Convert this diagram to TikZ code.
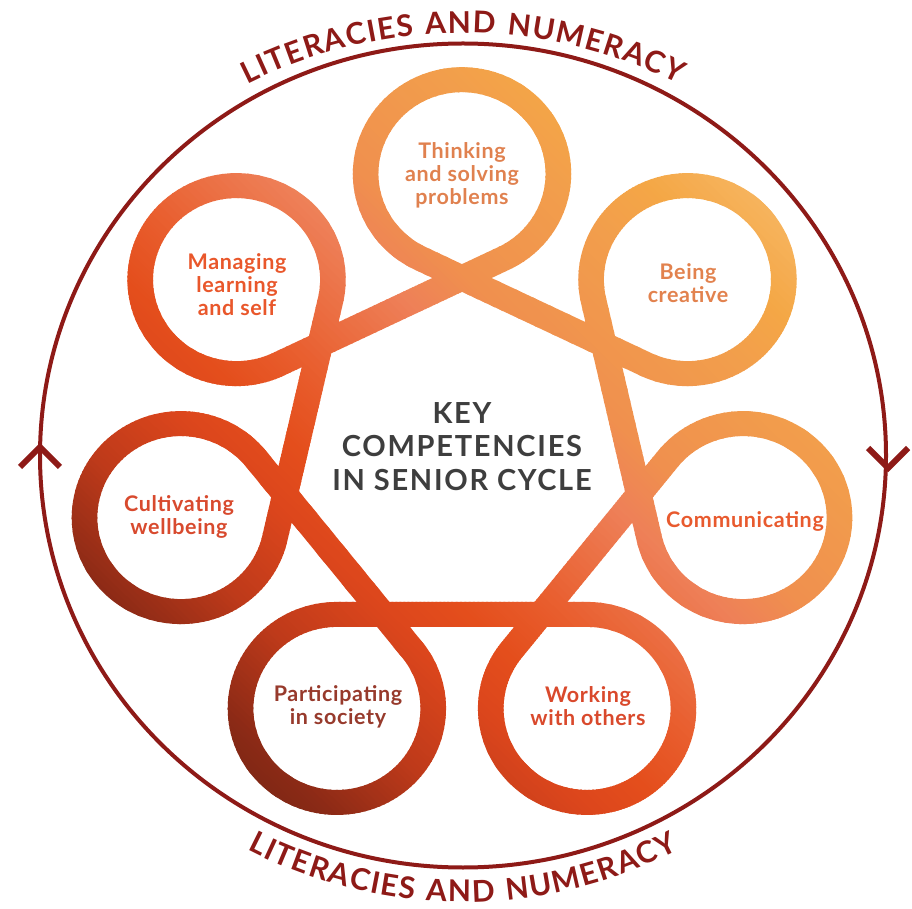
\documentclass[tikz,border=0pt]{standalone}
\usepackage{fontspec}
\setmainfont{Lato}
\newfontfamily\lblfont[LetterSpace=3.0]{Lato}
\newfontfamily\keyfont[LetterSpace=6.0]{Lato}
\usetikzlibrary{calc}
\definecolor{litred}{HTML}{8E1A17}
\definecolor{keygray}{HTML}{3E3E3E}
\definecolor{g0}{HTML}{F8BE70}
\definecolor{g1}{HTML}{F4A746}
\definecolor{g2}{HTML}{F29E4C}
\definecolor{g3}{HTML}{F0904E}
\definecolor{g4}{HTML}{EE8058}
\definecolor{g5}{HTML}{E85C2C}
\definecolor{g6}{HTML}{E44E1C}
\definecolor{g7}{HTML}{DC461C}
\definecolor{g8}{HTML}{BE3A1A}
\definecolor{g9}{HTML}{8C2A16}
\definecolor{g10}{HTML}{762513}
\definecolor{cThink}{HTML}{E0814F}
\definecolor{cCreat}{HTML}{E2824E}
\definecolor{cComm}{HTML}{E85A2E}
\definecolor{cWork}{HTML}{D9492C}
\definecolor{cPart}{HTML}{973A2C}
\definecolor{cCult}{HTML}{D84A2E}
\definecolor{cManag}{HTML}{E9572B}
\newdimen\arcacc
\newdimen\arctot
\newbox\arcbox
\newcommand\arcfnt{\bfseries\fontsize{30}{30}\selectfont}
\newcommand\arcsp{\kern 9pt\relax}
\def\litlist{L,I,T,E,R,A,C,I,E,S,\arcsp,A,N,D,\arcsp,N,U,M,E,R,A,C,Y}
\tikzset{
  lbl/.style={align=center, inner sep=0pt, font=\lblfont\bfseries\fontsize{21.5}{23}\selectfont},
  keytext/.style={align=center, inner sep=0pt, text=keygray, font=\keyfont\bfseries\fontsize{29}{33.5}\selectfont},
  arcl/.style={inner sep=0pt, anchor=base, text=litred, font=\arcfnt},
  ring/.style={litred, line width=4pt},
  chev/.style={litred, line width=6pt, line cap=butt, line join=miter}
}
\begin{document}
\global\arctot=0pt
\foreach \ch [count=\ci] in \litlist {\setbox\arcbox=\hbox{\arcfnt\ch}\global\advance\arctot by \wd\arcbox\relax\expandafter\xdef\csname arcw\ci\endcsname{\the\wd\arcbox}}
\pgfmathsetmacro\trk{(448-\the\arctot)/22}
\begin{tikzpicture}[x=1pt,y=1pt]
\useasboundingbox (0,0) rectangle (912,908);
% ---- outer ring
\coordinate (EC) at (463,452.5);
\draw[ring] (EC) ellipse [x radius=423, y radius=412];
\coordinate (lt) at (40,461);
\coordinate (la1) at (20,441);
\coordinate (la2) at (60,441);
\draw[chev] (la1) -- (lt) -- (la2);
\coordinate (rt) at (888,440);
\coordinate (ra1) at (868,460);
\coordinate (ra2) at (908,460);
\draw[chev] (ra1) -- (rt) -- (ra2);
% ---- band with loops
\begin{scope}[shift={(462,453)}, xscale=1.025]
\foreach \k in {0,...,6}{
  \pgfmathsetmacro\bTh{90-\k*360/7}
  \pgfmathsetmacro\bVax{177*cos(\bTh)}
  \pgfmathsetmacro\bVay{177*sin(\bTh)}
  \pgfmathsetmacro\bVbx{177*cos(\bTh-51.42857)}
  \pgfmathsetmacro\bVby{177*sin(\bTh-51.42857)}
  \pgfmathsetmacro\bEx{cos(\bTh-115.71429)}
  \pgfmathsetmacro\bEy{sin(\bTh-115.71429)}
  \pgfmathsetmacro\bNx{cos(\bTh-25.71429)}
  \pgfmathsetmacro\bNy{sin(\bTh-25.71429)}
  \coordinate (P1-\k) at ({\bVax-45.3*\bEx-12.5*\bNx},{\bVay-45.3*\bEy-12.5*\bNy});
  \coordinate (P2-\k) at ({\bVbx+45.3*\bEx-12.5*\bNx},{\bVby+45.3*\bEy-12.5*\bNy});
  \coordinate (P3-\k) at ({\bVbx+45.3*\bEx+12.5*\bNx},{\bVby+45.3*\bEy+12.5*\bNy});
  \coordinate (P4-\k) at ({\bVax-45.3*\bEx+12.5*\bNx},{\bVay-45.3*\bEy+12.5*\bNy});
  \coordinate (Q1-\k) at ({281.3*cos(\bTh)+106.5*cos(\bTh+205.71429)},{281.3*sin(\bTh)+106.5*sin(\bTh+205.71429)});
  \coordinate (Q2-\k) at ({281.3*cos(\bTh)+81.5*cos(\bTh+514.28571)},{281.3*sin(\bTh)+81.5*sin(\bTh+514.28571)});
}
\begin{scope}
\clip foreach \k in {0,...,6} {
  (Q1-\k) arc[start angle={90-\k*51.428571+205.71429}, end angle={90-\k*51.428571+514.28571}, radius=106.5]
  -- (Q2-\k) arc[start angle={90-\k*51.428571+514.28571}, end angle={90-\k*51.428571+205.71429}, radius=81.5] -- cycle
  (P1-\k) -- (P2-\k) -- (P3-\k) -- (P4-\k) -- cycle
};
\begin{scope}[rotate=-45]
\foreach \pa/\pb/\ca/\cb in {-620/-440/g0/g0, -440/-320/g0/g1, -320/-255/g1/g2, -255/-130/g2/g3, -130/-70/g3/g4, -70/50/g4/g5, 50/110/g5/g6, 110/165/g6/g7, 165/255/g7/g8, 255/345/g8/g9, 345/400/g9/g10, 400/620/g10/g10}{
  \foreach \i in {0,...,19}{
    \pgfmathsetmacro\va{-(\pa+(\pb-\pa)*\i/20)}
    \pgfmathsetmacro\vb{-(\pa+(\pb-\pa)*(\i+1)/20)-1.2}
    \pgfmathsetmacro\mx{100*(\i+0.5)/20}
    \fill[\cb!\mx!\ca] (-700,\va) rectangle (700,\vb);
  }
}
\end{scope}
\end{scope}
\end{scope}
% ---- labels
\node[lbl, text=cThink] (think) at (462,733) {Thinking\\and solving\\problems};
\node[lbl, text=cCreat] (creat) at (688,624.5) {Being\\creative};
\node[lbl, text=cComm] (comm) at (745,387) {Communicating};
\node[lbl, text=cWork] (work) at (588,201.5) {Working\\with others};
\node[lbl, text=cPart] (part) at (338,201.5) {Participating\\in society};
\node[lbl, text=cCult] (cult) at (179,391.5) {Cultivating\\wellbeing};
\node[lbl, text=cManag] (manag) at (237,623) {Managing\\learning\\and self};
\node[keytext] (key) at (462,461.5) {KEY\\COMPETENCIES\\IN SENIOR CYCLE};
% ---- arc texts
\coordinate (TC) at (463,395);
\coordinate (BC) at (463,476);
\global\arcacc=0pt
\foreach \ch [count=\ci] in \litlist {
  \edef\arcW{\csname arcw\ci\endcsname}
  \pgfmathsetmacro\arcS{\the\arcacc+\arcW/2-224}
  \pgfmathsetmacro\arcAng{90-\arcS/480*180/pi}
  \node[arcl, rotate=\arcAng-90] (top\ci) at ($(TC)+(\arcAng:480)$) {\ch};
  \pgfmathsetmacro\arcAdv{\arcW+\trk}
  \global\advance\arcacc by \arcAdv pt
}
\global\arcacc=0pt
\foreach \ch [count=\ci] in \litlist {
  \edef\arcW{\csname arcw\ci\endcsname}
  \pgfmathsetmacro\arcS{\the\arcacc+\arcW/2-224}
  \pgfmathsetmacro\arcAng{270+\arcS/470*180/pi}
  \node[arcl, rotate=\arcAng+90] (bot\ci) at ($(BC)+(\arcAng:470)$) {\ch};
  \pgfmathsetmacro\arcAdv{\arcW+\trk}
  \global\advance\arcacc by \arcAdv pt
}
\end{tikzpicture}
\end{document}
